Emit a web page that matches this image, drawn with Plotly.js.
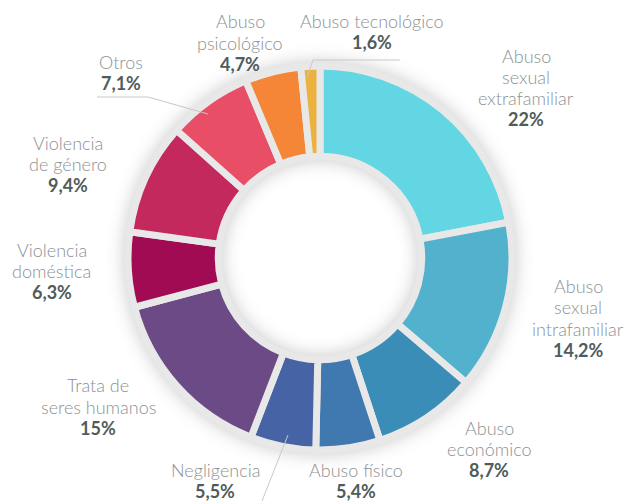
<!DOCTYPE html>
<html>
<head>
<meta charset="utf-8">
<script src="https://cdn.plot.ly/plotly-3.0.1.min.js"></script>
<style>
html,body{margin:0;padding:0;background:#fff;}
#chart{width:629px;height:501px;}
.pielayer{filter:drop-shadow(0 0 9px rgba(0,0,0,0.22));}
</style>
</head>
<body>
<div id="chart"></div>
<script>
// Data
const categories = [
  'Abuso|sexual|extrafamiliar',
  'Abuso|sexual|intrafamiliar',
  'Abuso|económico',
  'Abuso físico',
  'Negligencia',
  'Trata de|seres humanos',
  'Violencia|doméstica',
  'Violencia|de género',
  'Otros',
  'Abuso|psicológico',
  'Abuso tecnológico'
];
const values = [22, 14.2, 8.7, 5.4, 5.5, 15, 6.3, 9.4, 7.1, 4.7, 1.6];
const valueLabels = ['22%', '14,2%', '8,7%', '5,4%', '5,5%', '15%', '6,3%', '9,4%', '7,1%', '4,7%', '1,6%'];
const colors = ['#62d6e2', '#52b1cc', '#3a8db6', '#3f79af', '#4563a5', '#6b4a85', '#a10b53', '#c4295d', '#e94e67', '#f58537', '#ecb240'];

// label placement (pixels in 629x501 page) - styling only
const labelPos = [
  [526, 87.5], [578, 318], [489, 449], [356, 480.5], [215, 480.5],
  [98, 406.5], [52, 271], [68, 164], [121, 72.5], [240, 42.5], [372, 31.5]
];
const lineGap = 21.3;

const W = 629, H = 501;
const px = x => x / W;
const py = y => 1 - y / H;

const annotations = [];
categories.forEach((c, i) => {
  const lines = c.split('|').map(t => ({t: t, bold: false}));
  lines.push({t: valueLabels[i], bold: true});
  const n = lines.length;
  lines.forEach((ln, j) => {
    const yy = labelPos[i][1] + (j - (n - 1) / 2) * lineGap;
    annotations.push({
      text: ln.bold ? '<b>' + ln.t + '</b>' : ln.t,
      x: px(labelPos[i][0]), y: py(yy),
      xref: 'paper', yref: 'paper', xanchor: 'center', yanchor: 'middle',
      showarrow: false, align: 'center',
      font: ln.bold
        ? {family: 'Lato, sans-serif', size: 18, color: '#505c5b'}
        : {family: 'Lato, sans-serif', size: 18, color: '#8c9192', weight: 300}
    });
  });
});

const lineStyle = {color: '#c8c8c8', width: 1};
const shapes = [
  {type: 'path', xref: 'paper', yref: 'paper', line: lineStyle,
   path: `M ${px(400)} ${py(60)} L ${px(313)} ${py(60)} L ${px(307)} ${py(77)}`},
  {type: 'path', xref: 'paper', yref: 'paper', line: lineStyle,
   path: `M ${px(97)} ${py(97)} L ${px(148)} ${py(97)} L ${px(208)} ${py(114)}`},
  {type: 'path', xref: 'paper', yref: 'paper', line: lineStyle,
   path: `M ${px(288)} ${py(435)} L ${px(262)} ${py(501)}`}
];

const cx = 320, cy = 258, r = 192;
const trace = {
  type: 'pie',
  labels: categories,
  values: values,
  sort: false,
  direction: 'clockwise',
  rotation: 0,
  hole: 0.53,
  textposition: 'none',
  hoverinfo: 'none',
  marker: {colors: colors, line: {color: '#e8e8e8', width: 7}},
  domain: {x: [px(cx - r), px(cx + r)], y: [py(cy + r), py(cy - r)]},
  showlegend: false
};

Plotly.newPlot('chart', [trace], {
  width: W, height: H,
  margin: {l: 0, r: 0, t: 0, b: 0},
  paper_bgcolor: '#fff',
  annotations: annotations,
  shapes: shapes,
  font: {family: 'Lato, sans-serif'}
}, {displayModeBar: false, staticPlot: true});
</script>
</body>
</html>
